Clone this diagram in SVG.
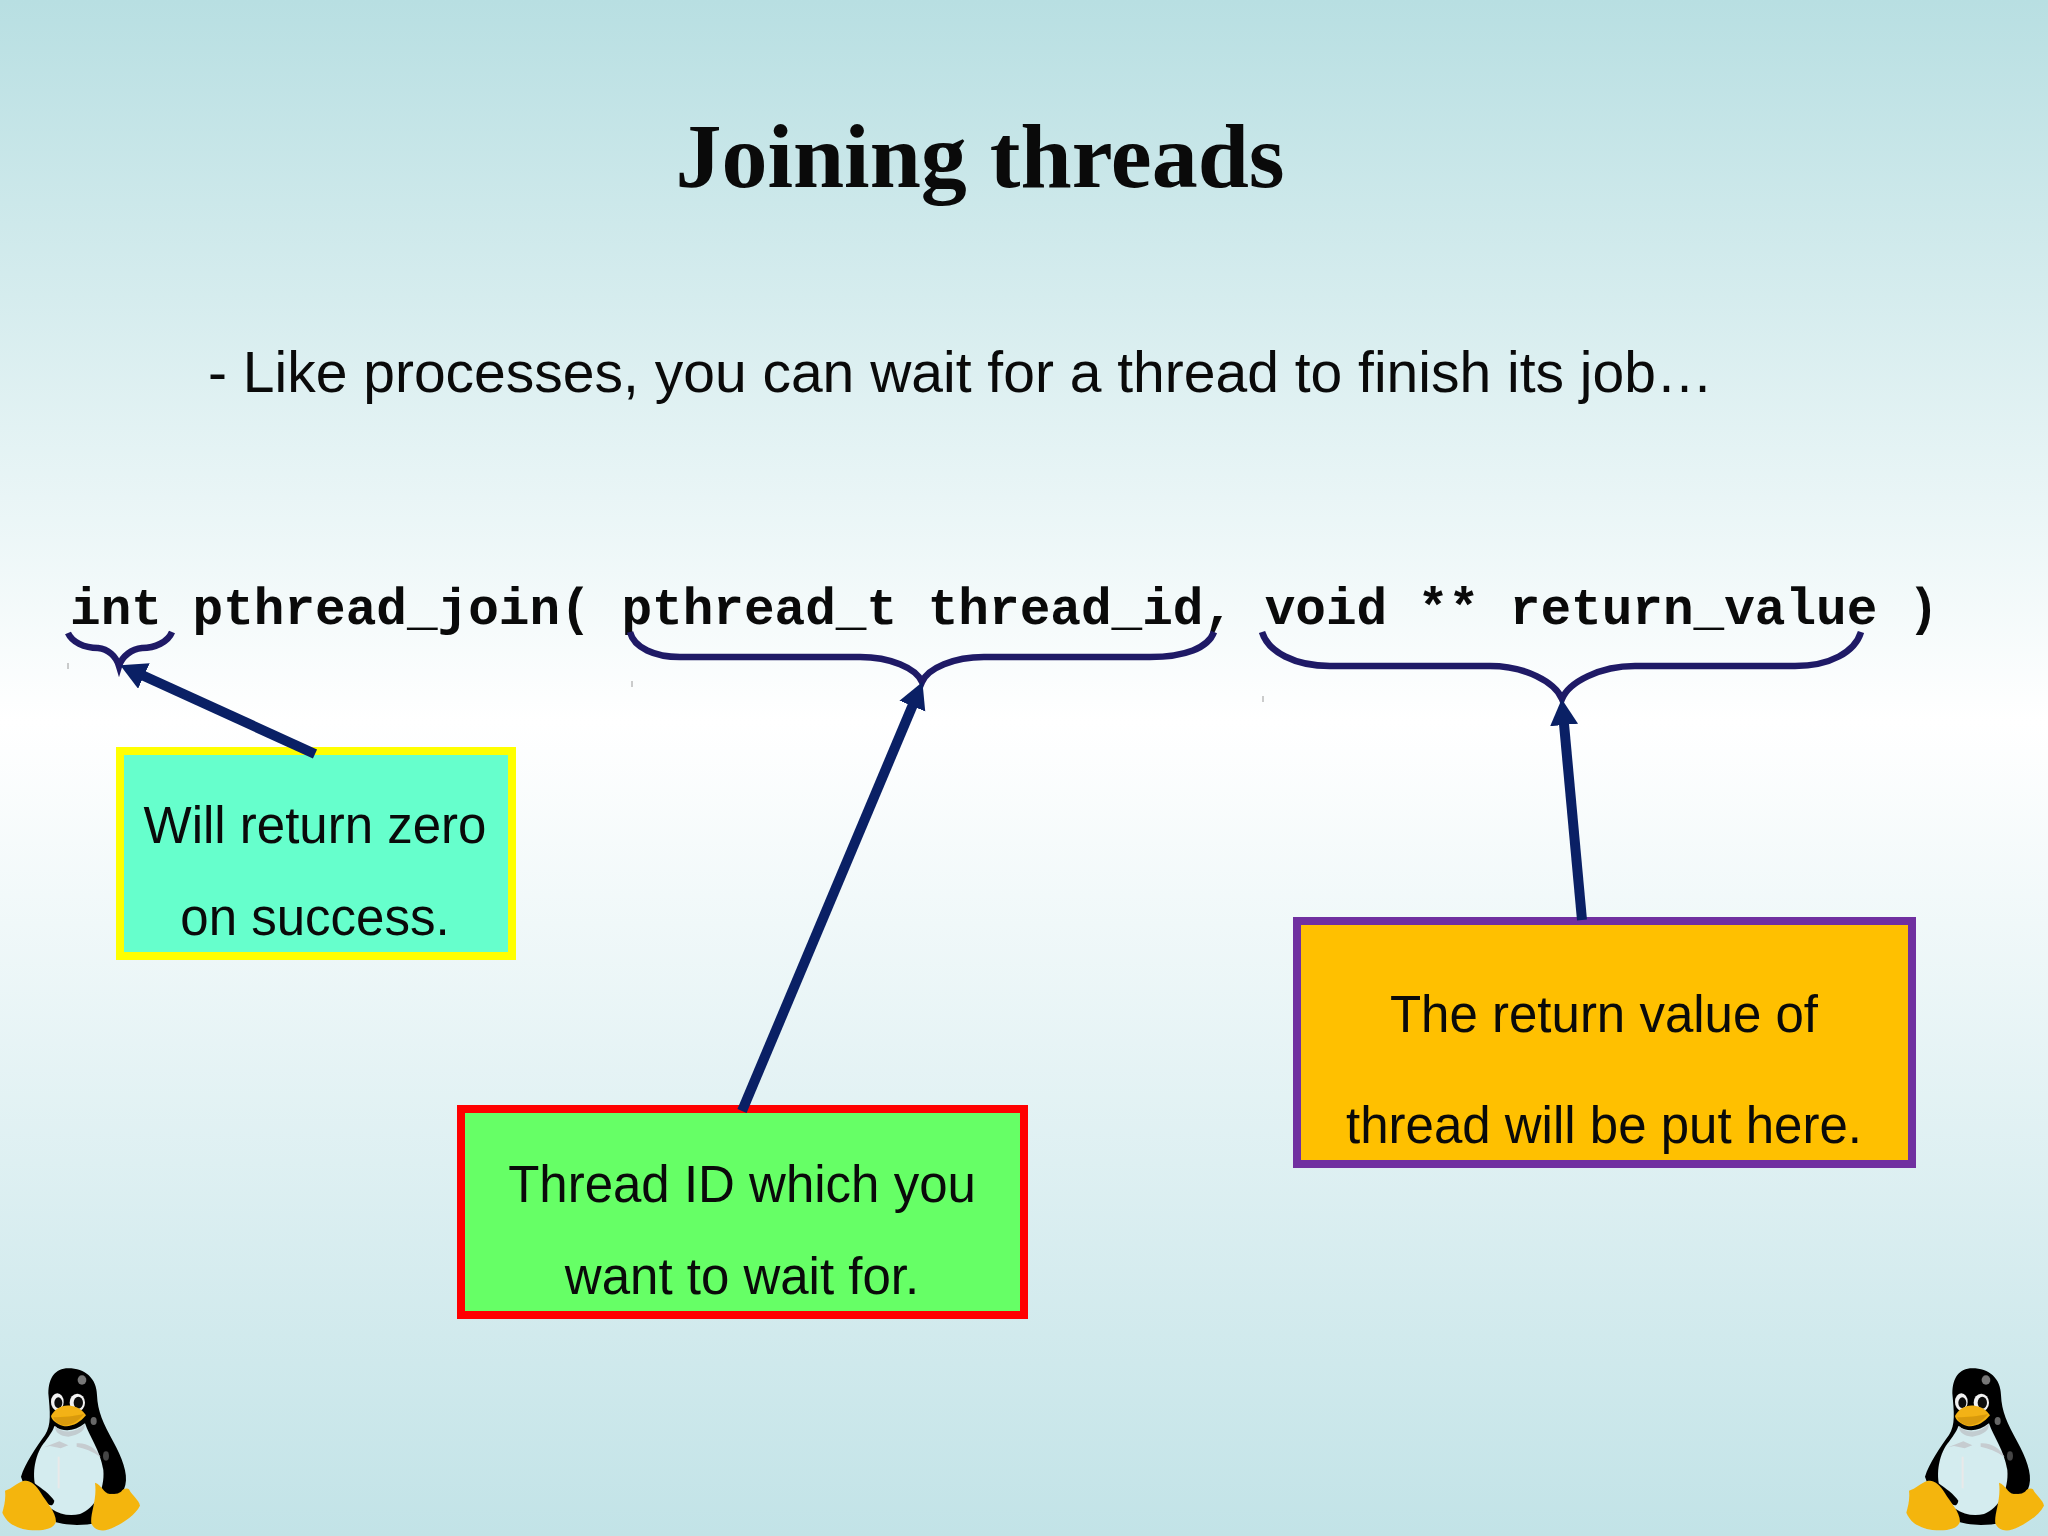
<svg xmlns="http://www.w3.org/2000/svg" width="2048" height="1536" viewBox="0 0 2048 1536">
<style>
.title{font:bold 92px "Liberation Serif",serif;fill:#0a0a0a;text-anchor:middle}
.sub{font:57px "Liberation Sans",Arial,sans-serif;fill:#0a0a0a}
.code{font:bold 51.05px "Liberation Mono",monospace;fill:#0a0a0a}
.lbl{font:51px "Liberation Sans",Arial,sans-serif;fill:#0a0a0a;text-anchor:middle}
.box{stroke-width:8}
.brace{fill:none;stroke:#1f1a66;stroke-width:6.5;stroke-linecap:butt}
.arrow{fill:none;stroke:#0a2065;stroke-width:10;marker-end:url(#ah)}
.tick{stroke:#9a9a9a;stroke-width:1}
</style>
<defs>
<linearGradient id="bg" x1="0" y1="0" x2="0" y2="1">
<stop offset="0" stop-color="#b8dfe2"/>
<stop offset="0.47" stop-color="#ffffff"/>
<stop offset="1" stop-color="#c2e3e7"/>
</linearGradient>
<marker id="ah" markerUnits="userSpaceOnUse" markerWidth="30" markerHeight="30" refX="12" refY="14" orient="auto">
<path d="M0 0L26 14L0 28Z" fill="#0a2065"/>
</marker>
<filter id="soft" x="-5%" y="-5%" width="110%" height="110%"><feGaussianBlur stdDeviation="1.3"/></filter>
<g id="tux" filter="url(#soft)">
<path d="M205 85C255 85 290 115 291 165C293 215 310 250 340 305C365 350 385 400 376 435C365 480 330 525 290 548C250 558 190 558 150 540C110 500 75 450 63 410C75 370 110 320 135 285C155 255 150 215 145 160C145 115 165 85 205 85Z" fill="#060606"/>
<path d="M163 258C190 278 225 274 255 250C268 290 300 330 310 390C315 450 285 505 240 522C190 535 135 510 110 450C92 400 108 335 135 305C150 285 160 270 163 258Z" fill="#d4ecef"/>
<path d="M165 258C190 282 225 280 254 252C258 268 240 285 205 290C180 288 165 278 165 258Z" fill="#c2ccd0"/>
<path d="M132 322L178 304L205 316L182 325L150 318ZM230 310C262 308 288 325 302 352C278 332 252 326 230 320Z" fill="#c6ccd0"/>
<path d="M176 350L176 445" stroke="#e9e9e9" stroke-width="6"/>
<path d="M102 428C125 445 150 462 163 482C160 500 150 498 140 490C120 470 105 450 102 428Z" fill="#060606"/>
<ellipse cx="172" cy="186" rx="19" ry="26" fill="#f2f2f2"/>
<ellipse cx="232" cy="188" rx="23" ry="27" fill="#f2f2f2"/>
<ellipse cx="175" cy="188" rx="12" ry="16" fill="#0c0c0c"/>
<ellipse cx="235" cy="188" rx="14" ry="18" fill="#0c0c0c"/>
<path d="M153 228C165 205 190 192 215 198C235 200 252 215 258 226C240 248 215 262 190 258C170 252 155 240 153 228Z" fill="#f3b212"/>
<path d="M160 232C190 232 225 228 252 222C235 245 210 258 188 256C172 250 162 242 160 232Z" fill="#d99a0c"/>
<ellipse cx="246" cy="120" rx="13" ry="14" fill="#777"/>
<ellipse cx="281" cy="243" rx="9" ry="12" fill="#666"/>
<ellipse cx="318" cy="348" rx="9" ry="14" fill="#444"/>
<path d="M15 452C35 447 52 428 70 423C90 418 108 435 122 458C140 488 168 515 168 545C160 570 125 573 85 570C50 565 20 550 7 518C12 500 18 480 15 452Z" fill="#f4b510"/>
<path d="M285 428C305 433 310 460 330 462C355 462 375 438 387 448C397 468 417 480 420 497C405 525 375 545 342 562C315 576 285 576 274 550C270 520 292 480 285 428Z" fill="#f4b510"/>
<ellipse cx="342" cy="438" rx="30" ry="24" fill="#060606"/>
</g>
</defs>

<rect id="background" width="2048" height="1536" fill="url(#bg)"/>
<g id="penguin-left"><use href="#tux" transform="translate(0 1340) scale(.3333)"/></g>
<g id="penguin-right"><use href="#tux" transform="translate(1904 1340) scale(.3333)"/></g>

<g id="title"><text class="title" x="980" y="187">Joining threads</text></g>
<g id="subtitle"><text class="sub" x="208" y="392">- Like processes, you can wait for a thread to finish its job…</text></g>
<g id="signature"><text class="code" x="70" y="624" xml:space="preserve">int pthread_join( pthread_t thread_id, void ** return_value )</text></g>

<g id="braces">
<path class="brace" d="M68 633C72 642 84 648 98 648C108 649 116 656 119 666C122 656 132 649 142 648C155 648 168 642 172 632"/>
<path class="brace" d="M630 632C634 648 655 657 680 657L860 657C890 657 916 668 922 682C928 668 954 657 984 657L1150 657C1185 657 1208 648 1214 632"/>
<path class="brace" d="M1262 632C1268 652 1295 666 1330 666L1490 666C1525 666 1555 682 1562 699C1569 682 1600 666 1635 666L1795 666C1830 666 1855 652 1861 632"/>
<path class="tick" d="M68 663V669M632 681V687M1263 696V702"/>
</g>

<g id="node-zero">
<rect class="box" x="120" y="751" width="392" height="205" fill="#66ffcc" stroke="#ffff00"/>
<text class="lbl" x="315" y="843">Will return zero</text>
<text class="lbl" x="315" y="935">on success.</text>
</g>
<g id="node-thread-id">
<rect class="box" x="461" y="1109" width="563" height="206" fill="#66ff66" stroke="#ff0000"/>
<text class="lbl" x="742" y="1202">Thread ID which you</text>
<text class="lbl" x="742" y="1294">want to wait for.</text>
</g>
<g id="node-return">
<rect class="box" x="1297" y="921" width="615" height="243" fill="#ffc000" stroke="#7030a0"/>
<text class="lbl" x="1604" y="1032">The return value of</text>
<text class="lbl" x="1604" y="1143">thread will be put here.</text>
</g>

<g id="connectors">
<path class="arrow" d="M315 754L133 671"/>
<path class="arrow" d="M742 1111L917 695"/>
<path class="arrow" d="M1582 920L1563 713"/>
</g>
</svg>
